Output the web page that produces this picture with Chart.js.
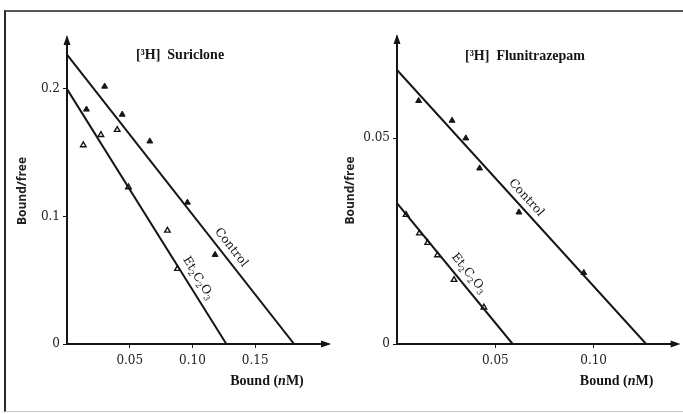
<!DOCTYPE html>
<html>
<head>
<meta charset="utf-8">
<script src="https://cdn.jsdelivr.net/npm/chart.js@4.4.1/dist/chart.umd.min.js"></script>
<style>
  body { margin: 0; background: #fff; width: 683px; height: 414px; overflow: hidden; position: relative; }
  .frame { position: absolute; left: 4px; top: 10px; right: -10px; bottom: 2px;
           border-left: 2px solid #2a2a2a; border-top: 2px solid #555; border-bottom: 1px solid #c8c8c8; }
  canvas { position: absolute; top: 0; }
  #suriclone { left: 0; }
  #flunitrazepam { left: 340px; }
</style>
</head>
<body>
<div class="frame"></div>
<canvas id="suriclone" width="340" height="414"></canvas>
<canvas id="flunitrazepam" width="343" height="414"></canvas>

<script>
// [3H] Suriclone (Bound en nM, Bound/free)
const suriControlX = [0.0155, 0.030, 0.044, 0.066, 0.096, 0.118];
const suriControlY = [0.184, 0.202, 0.180, 0.159, 0.111, 0.070];
const suriEtX = [0.013, 0.027, 0.040, 0.049, 0.080, 0.088];
const suriEtY = [0.156, 0.164, 0.168, 0.123, 0.089, 0.059];
// droites de Scatchard : [ordonnée à l'origine, intersection avec l'axe Bound]
const suriControlFit = [0.227, 0.181];
const suriEtFit = [0.200, 0.127];
const suriXTicks = [0.05, 0.10, 0.15];
const suriXLabels = ["0.05", "0.10", "0.15"];
const suriYTicks = [0, 0.1, 0.2];
const suriYLabels = ["0", "0.1", "0.2"];

// [3H] Flunitrazepam
const fluniControlX = [0.011, 0.028, 0.035, 0.042, 0.062, 0.095];
const fluniControlY = [0.0591, 0.0543, 0.050, 0.0427, 0.032, 0.0173];
const fluniEtX = [0.0046, 0.0114, 0.0156, 0.0206, 0.029, 0.0442];
const fluniEtY = [0.0314, 0.0269, 0.0246, 0.0216, 0.0156, 0.0089];
const fluniControlFit = [0.0666, 0.1267];
const fluniEtFit = [0.0342, 0.0588];
const fluniXTicks = [0.05, 0.10];
const fluniXLabels = ["0.05", "0.10"];
const fluniYTicks = [0, 0.05];
const fluniYLabels = ["0", "0.05"];

const INK = "#151515";

function toPoints(xs, ys) {
  return xs.map((x, i) => ({ x: x, y: ys[i] }));
}
function fitLine(fit) {
  return [{ x: 0, y: fit[0] }, { x: fit[1], y: 0 }];
}

// Texte avec indices (Et2C2O3) : [texte, indice?]
const etParts = [["Et", false], ["2", true], ["C", false], ["2", true], ["O", false], ["3", true]];

function drawRich(ctx, parts, size) {
  const fontMain = size + "px 'DejaVu Serif'";
  const fontSub = Math.round(size * 0.68) + "px 'DejaVu Serif'";
  let w = 0;
  parts.forEach(([t, sub]) => { ctx.font = sub ? fontSub : fontMain; w += ctx.measureText(t).width; });
  let cx = -w / 2;
  parts.forEach(([t, sub]) => {
    ctx.font = sub ? fontSub : fontMain;
    ctx.fillText(t, cx, sub ? 4 : 0);
    cx += ctx.measureText(t).width;
  });
}

// Décor : flèches des axes, titres, étiquettes le long des droites
const panelDecor = {
  id: "panelDecor",
  afterDraw(chart, args, opts) {
    const { ctx, chartArea: a, scales: { x, y } } = chart;
    ctx.save();
    ctx.fillStyle = INK;

    // flèches
    ctx.beginPath();
    ctx.moveTo(a.left, a.top - 3);
    ctx.lineTo(a.left - 3.5, a.top + 7);
    ctx.lineTo(a.left + 3.5, a.top + 7);
    ctx.closePath();
    ctx.fill();
    ctx.beginPath();
    ctx.moveTo(a.right + 3, a.bottom);
    ctx.lineTo(a.right - 7, a.bottom - 3.5);
    ctx.lineTo(a.right - 7, a.bottom + 3.5);
    ctx.closePath();
    ctx.fill();

    // titre du panneau
    ctx.textAlign = "center";
    ctx.textBaseline = "middle";
    ctx.font = "bold 14px 'Liberation Serif'";
    ctx.fillText(opts.title, a.left + opts.titleOffset, opts.titleY);

    // titre de l'axe x : Bound (nM) avec n en italique
    const parts = [["Bound (", "bold 14px 'Liberation Serif'"], ["n", "italic bold 14px 'Liberation Serif'"], ["M)", "bold 14px 'Liberation Serif'"]];
    let w = 0;
    parts.forEach(([t, f]) => { ctx.font = f; w += ctx.measureText(t).width; });
    let cx = a.right - 61 - w / 2;
    ctx.textAlign = "left";
    parts.forEach(([t, f]) => { ctx.font = f; ctx.fillText(t, cx, 381); cx += ctx.measureText(t).width; });

    // étiquettes des droites
    opts.lineLabels.forEach((lab) => {
      const x0 = x.getPixelForValue(0), y0 = y.getPixelForValue(lab.fit[0]);
      const x1 = x.getPixelForValue(lab.fit[1]), y1 = y.getPixelForValue(0);
      const ang = Math.atan2(y1 - y0, x1 - x0);
      const fx = x.getPixelForValue(lab.at);
      const fy = y.getPixelForValue(lab.fit[0] * (1 - lab.at / lab.fit[1]));
      const px = fx + Math.sin(ang) * lab.offset;
      const py = fy - Math.cos(ang) * lab.offset;
      ctx.save();
      ctx.translate(px, py);
      ctx.rotate(ang);
      ctx.textAlign = "left";
      ctx.textBaseline = "middle";
      if (lab.rich) {
        drawRich(ctx, etParts, 12);
      } else {
        ctx.font = "12px 'DejaVu Serif'";
        ctx.textAlign = "center";
        ctx.fillText(lab.text, 0, 0);
      }
      ctx.restore();
    });
    ctx.restore();
  }
};

function makePanel(id, p) {
  const ctx = document.getElementById(id).getContext("2d");
  return new Chart(ctx, {
    type: "scatter",
    data: {
      datasets: [
        { data: fitLine(p.controlFit), showLine: true, borderColor: INK, borderWidth: 2, pointRadius: 0 },
        { data: fitLine(p.etFit), showLine: true, borderColor: INK, borderWidth: 2, pointRadius: 0 },
        { label: "Control", data: toPoints(p.controlX, p.controlY), pointStyle: "triangle",
          pointRadius: 3.4, backgroundColor: INK, borderColor: INK, borderWidth: 1 },
        { label: "Et2C2O3", data: toPoints(p.etX, p.etY), pointStyle: "triangle",
          pointRadius: 3.2, backgroundColor: "#fff", borderColor: INK, borderWidth: 1.4 },
      ],
    },
    options: {
      responsive: false,
      animation: false,
      devicePixelRatio: 1,
      layout: { padding: p.padding },
      plugins: {
        legend: { display: false },
        tooltip: { enabled: false },
        panelDecor: { title: p.title, titleOffset: p.titleOffset, titleY: p.titleY, lineLabels: p.lineLabels },
      },
      scales: {
        x: {
          type: "linear", min: 0, max: p.xMax,
          border: { color: INK, width: 2 },
          grid: { drawOnChartArea: false, color: INK, tickLength: 4, lineWidth: 1 },
          afterBuildTicks: (s) => { s.ticks = p.xTicks.map((v) => ({ value: v })); },
          afterFit: (s) => { s.height = 50; },
          ticks: { autoSkip: false, maxRotation: 0, padding: 6, color: "#222",
                   font: { family: "'DejaVu Serif'", size: 12 },
                   callback: (v, i) => p.xLabels[i] },
        },
        y: {
          type: "linear", min: 0, max: p.yMax,
          border: { color: INK, width: 2 },
          grid: { drawOnChartArea: false, color: INK, tickLength: 4, lineWidth: 1 },
          afterBuildTicks: (s) => { s.ticks = p.yTicks.map((v) => ({ value: v })); },
          afterFit: (s) => { s.width = p.yWidth; },
          ticks: { autoSkip: false, padding: 3, color: "#222",
                   font: { family: "'DejaVu Serif'", size: 12 },
                   callback: (v, i) => p.yLabels[i] },
          title: { display: true, text: "Bound/free", color: "#222",
                   font: { family: "'Open Sans'", weight: "bold", size: 12 },
                   padding: { top: p.yTitlePad, bottom: 0 } },
        },
      },
    },
    plugins: [panelDecor],
  });
}

document.addEventListener("DOMContentLoaded", () => {
  makePanel("suriclone", {
    title: "[\u00B3H]  Suriclone", titleOffset: 113, titleY: 55,
    controlX: suriControlX, controlY: suriControlY, etX: suriEtX, etY: suriEtY,
    controlFit: suriControlFit, etFit: suriEtFit,
    xTicks: suriXTicks, xLabels: suriXLabels, yTicks: suriYTicks, yLabels: suriYLabels,
    xMax: 0.208, yMax: 0.24,
    padding: { top: 38, right: 12, bottom: 20, left: 0 }, yWidth: 67, yTitlePad: 15,
    lineLabels: [
      { text: "Control", fit: suriControlFit, at: 0.1245, offset: 10 },
      { rich: true, fit: suriEtFit, at: 0.097, offset: 11 },
    ],
  });

  makePanel("flunitrazepam", {
    title: "[\u00B3H]  Flunitrazepam", titleOffset: 128, titleY: 56,
    controlX: fluniControlX, controlY: fluniControlY, etX: fluniEtX, etY: fluniEtY,
    controlFit: fluniControlFit, etFit: fluniEtFit,
    xTicks: fluniXTicks, xLabels: fluniXLabels, yTicks: fluniYTicks, yLabels: fluniYLabels,
    xMax: 0.1427, yMax: 0.0746,
    padding: { top: 37, right: 3, bottom: 20, left: 0 }, yWidth: 57, yTitlePad: 3,
    lineLabels: [
      { text: "Control", fit: fluniControlFit, at: 0.0621, offset: 9.5 },
      { rich: true, fit: fluniEtFit, at: 0.0322, offset: 11 },
    ],
  });
});
</script>
</body>
</html>
